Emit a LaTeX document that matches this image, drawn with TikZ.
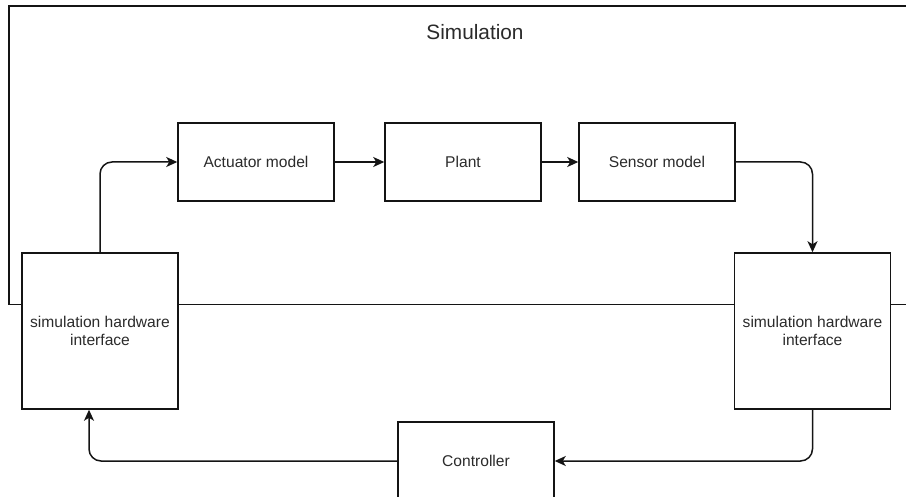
\documentclass[tikz,border=0pt]{standalone}
\usepackage{fontspec}
\setmainfont{Liberation Sans}
\usetikzlibrary{arrows.meta}
\definecolor{ink}{HTML}{141414}
\definecolor{txt}{HTML}{2B2B2B}
\begin{document}
\begin{tikzpicture}[x=1pt,y=-1pt,
  block/.style={draw=ink, fill=white, line width=1.5pt, minimum width=156pt,
    minimum height=78pt, inner sep=0pt, text=txt, align=center,
    font=\fontsize{15.6}{18.5}\selectfont},
  hwbox/.style={block, minimum height=156pt},
  flow/.style={draw=ink, line width=1.5pt, rounded corners=12pt,
    -{Stealth[length=11pt,width=10pt,inset=3pt]}}]
  \clip (0,0) rectangle (906,497);
  \fill[white] (0,0) rectangle (906,497);

  % simulation frame (runs off the right edge)
  \draw[ink, line width=1.5pt] (9,6) rectangle (940,304.5);
  \node[text=txt, font=\fontsize{20.8}{24}\selectfont] (title) at (475,32) {Simulation};

  % model chain
  \node[block] (act) at (256,162) {Actuator model};
  \node[block] (plant) at (463,162) {Plant};
  \node[block] (sens) at (657,162) {Sensor model};

  % hardware interfaces
  \node[hwbox] (hwL) at (100,331) {simulation hardware\\interface};
  \node[hwbox] (hwR) at (812.5,331) {simulation hardware\\interface};

  % controller (cut by the lower edge)
  \node[block] (ctl) at (476,461) {Controller};
  \coordinate (hwLin) at ([xshift=-11pt]hwL.south);

  \draw[flow] (hwL.north) |- (act.west);
  \draw[flow] (act.east) -- (plant.west);
  \draw[flow] (plant.east) -- (sens.west);
  \draw[flow] (sens.east) -| (hwR.north);
  \draw[flow] (hwR.south) |- (ctl.east);
  \draw[flow] (ctl.west) -| (hwLin);
\end{tikzpicture}
\end{document}
